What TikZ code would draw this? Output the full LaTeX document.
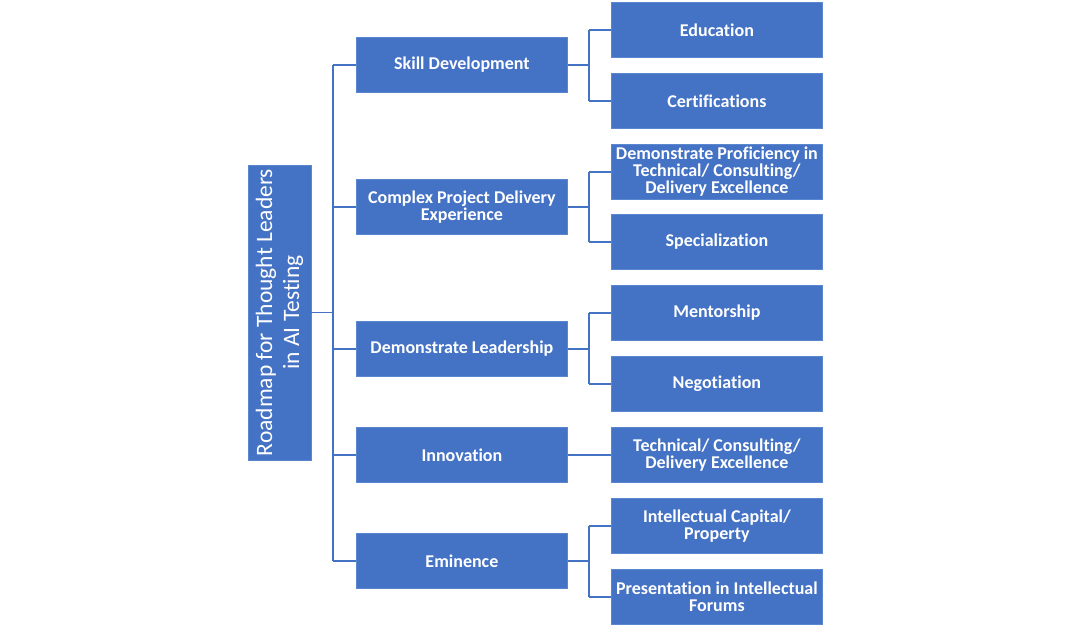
\documentclass[tikz,border=0pt]{standalone}
\usepackage{fontspec}
\setmainfont{Carlito}[RawFeature=-liga]
\definecolor{boxblue}{HTML}{4472C4}
\definecolor{edgeblue}{HTML}{5B87D0}
\begin{document}
\begin{tikzpicture}[x=1pt,y=-1pt,
  box/.style={draw=edgeblue, line width=0.8pt, fill=boxblue, text=white,
    font=\bfseries\fontsize{18}{17}\selectfont, align=center, inner sep=0pt,
    minimum width=211pt, minimum height=55pt, anchor=north west},
  root/.style={draw=edgeblue, line width=0.8pt, fill=boxblue, text=white,
    font=\fontsize{23.5}{27}\selectfont, align=center, inner sep=0pt,
    minimum width=295pt, minimum height=63pt, rotate=90},
  conn/.style={draw=boxblue, line width=1.4pt}]
\useasboundingbox (0,0) rectangle (1070,626);
% root
\node[root] (r) at (279.5,312.5) {Roadmap for Thought Leaders\\in AI Testing};
% level 1
\node[box] (sd) at (356,37) {Skill Development};
\node[box] (cp) at (356,179) {Complex Project Delivery\\Experience};
\node[box] (dl) at (356,321) {Demonstrate Leadership};
\node[box] (in) at (356,427) {Innovation};
\node[box] (em) at (356,533) {Eminence};
% level 2
\node[box] (ed) at (611,2) {Education};
\node[box] (ce) at (611,73) {Certifications};
\node[box] (dp) at (611,144) {Demonstrate Proficiency in\\Technical/ Consulting/\\Delivery Excellence};
\node[box] (sp) at (611,214) {Specialization};
\node[box] (me) at (611,285) {Mentorship};
\node[box] (ne) at (611,356) {Negotiation};
\node[box] (te) at (611,427) {Technical/ Consulting/\\Delivery Excellence};
\node[box] (ic) at (611,498) {Intellectual Capital/\\Property};
\node[box] (pr) at (611,569) {Presentation in Intellectual\\Forums};
% spine coordinates
\coordinate (s0) at (333,0);
\coordinate (s1) at (589,0);
% root connectors
\draw[conn] (r.south) -- (r.south -| s0);
\draw[conn] (sd.west -| s0) -- (em.west -| s0);
\foreach \n in {sd,cp,dl,in,em} \draw[conn] (\n.west -| s0) -- (\n.west);
% level 1 to level 2
\draw[conn] (sd.east) -- (sd.east -| s1);
\draw[conn] (ed.west -| s1) -- (ce.west -| s1);
\draw[conn] (ed.west -| s1) -- (ed.west);
\draw[conn] (ce.west -| s1) -- (ce.west);
\draw[conn] (cp.east) -- (cp.east -| s1);
\draw[conn] (dp.west -| s1) -- (sp.west -| s1);
\draw[conn] (dp.west -| s1) -- (dp.west);
\draw[conn] (sp.west -| s1) -- (sp.west);
\draw[conn] (dl.east) -- (dl.east -| s1);
\draw[conn] (me.west -| s1) -- (ne.west -| s1);
\draw[conn] (me.west -| s1) -- (me.west);
\draw[conn] (ne.west -| s1) -- (ne.west);
\draw[conn] (in.east) -- (te.west);
\draw[conn] (em.east) -- (em.east -| s1);
\draw[conn] (ic.west -| s1) -- (pr.west -| s1);
\draw[conn] (ic.west -| s1) -- (ic.west);
\draw[conn] (pr.west -| s1) -- (pr.west);
\end{tikzpicture}
\end{document}
